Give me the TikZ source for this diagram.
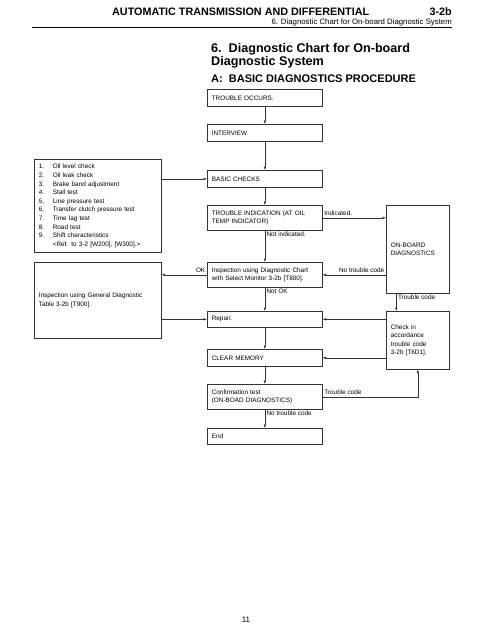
\documentclass[tikz,border=0pt]{standalone}
\usepackage{fontspec}
\setmainfont{Liberation Sans}
\usetikzlibrary{arrows.meta}

\tikzset{
    box/.style={draw=black!80, line width=0.6pt, anchor=north west, align=left,
        inner xsep=4.5pt, inner ysep=1pt, font=\fontsize{6.4}{8.6}\selectfont},
    mainbox/.style={box, minimum width=115pt, text width=106pt},
    sidebox/.style={box, minimum width=127pt, text width=118pt},
    codebox/.style={box, minimum width=63pt, text width=54pt},
    arr/.style={draw=black!80, line width=0.5pt, -{Latex[length=3.5pt,width=2.6pt]}},
    lbl/.style={inner sep=1.5pt, font=\fontsize{6.4}{8}\selectfont},
    headtext/.style={inner sep=0pt, font=\fontsize{10.8}{12}\selectfont\bfseries},
    titletext/.style={inner sep=0pt, anchor=base west, font=\fontsize{12.6}{13}\selectfont\bfseries},
}

\begin{document}
\begin{tikzpicture}[x=1pt,y=-1pt]
    \useasboundingbox (0,0) rectangle (495,640);

    % Page header
    \node[headtext, anchor=base west] (head) at (112,15) {AUTOMATIC TRANSMISSION AND DIFFERENTIAL};
    \node[headtext, anchor=base east] (sect) at (452,15) {3-2b};
    \node[inner sep=0pt, anchor=base east, font=\fontsize{7.8}{9}\selectfont] (subhead) at (452,24) {6. Diagnostic Chart for On-board Diagnostic System};
    \draw[line width=1pt] (32,27.8) -- (452,27.8);

    % Titles
    \node[titletext] (title) at (211,52) {6.\ \ Diagnostic Chart for On-board};
    \node[titletext] (title2) at (211,65) {Diagnostic System};
    \node[titletext, font=\fontsize{11}{12}\selectfont\bfseries] (subtitle) at (211,82)
        {A:\ \ BASIC DIAGNOSTICS PROCEDURE};

    % Main column
    \node[mainbox, minimum height=17pt] (occurs) at (207,89) {TROUBLE OCCURS.};
    \node[mainbox, minimum height=17pt] (interview) at (207,124) {INTERVIEW};
    \node[mainbox, minimum height=17pt] (basic) at (207,170) {BASIC CHECKS};
    \node[mainbox, minimum height=25pt] (indication) at (207,205) {TROUBLE INDICATION (AT OIL\\TEMP INDICATOR)};
    \node[mainbox, minimum height=25pt] (inspect) at (207,262) {Inspection using Diagnostic Chart\\with Select Monitor 3-2b [T800].};
    \node[mainbox, minimum height=16pt] (repair) at (207,311) {Repair.};
    \node[mainbox, minimum height=17pt] (clear) at (207,349) {CLEAR MEMORY};
    \node[mainbox, minimum height=25pt] (confirm) at (207,384) {Confirmation test\\(ON-BOAD DIAGNOSTICS)};
    \node[mainbox, minimum height=16pt] (finish) at (207,428) {End};

    % Left column
    \node[sidebox, minimum height=93pt] (checks) at (34,159) {%
        \begin{tabular}{@{}p{14pt}@{}l@{}}
        1. & Oil level check\\
        2. & Oil leak check\\
        3. & Brake band adjustment\\
        4. & Stall test\\
        5. & Line pressure test\\
        6. & Transfer clutch pressure test\\
        7. & Time lag test\\
        8. & Road test\\
        9. & Shift characteristics\\
           & <Ref. to 3-2 [W200], [W300].>
        \end{tabular}};
    \node[sidebox, minimum height=76pt] (general) at (34,262) {Inspection using General Diagnostic\\Table 3-2b [T900].};

    % Right column
    \node[codebox, minimum height=88pt] (onboard) at (386,205) {ON-BOARD\\DIAGNOSTICS};
    \node[codebox, minimum height=58pt] (codecheck) at (386,311) {Check in\\accordance\\trouble code\\3-2b [T6D1].};

    % Flow
    \draw[arr] (occurs) -- (interview);
    \draw[arr] (interview) -- (basic);
    \draw[arr] (checks.east |- basic.west) -- (basic.west);
    \draw[arr] (basic) -- (indication);
    \draw[arr] (indication.east) -- node[lbl, pos=0, anchor=south west] (lblind) {Indicated.} (onboard.west |- indication.east);
    \draw[arr] (indication) -- node[lbl, pos=0, anchor=north west] (lblnotind) {Not indicated.} (inspect);
    \draw[arr] (onboard.west |- inspect.east) -- node[lbl, pos=0, anchor=south east] (lblnocode) {No trouble code} (inspect.east);
    \draw[arr] (inspect.west) -- node[lbl, pos=0, anchor=south east] (lblok) {OK} (general.east |- inspect.west);
    \draw[arr] (inspect) -- node[lbl, pos=0, anchor=north west] (lblnotok) {Not OK} (repair);
    \draw[arr] (general.east |- repair.west) -- (repair.west);
    \draw[arr] ([xshift=-21.5pt]onboard.south) -- node[lbl, pos=0, anchor=north west] (lblcode) {Trouble code} ([xshift=-21.5pt]codecheck.north);
    \draw[arr] (codecheck.west |- repair.east) -- (repair.east);
    \draw[arr] (codecheck.west |- clear.east) -- (clear.east);
    \draw[arr] (repair) -- (clear);
    \draw[arr] (clear) -- (confirm);
    \draw[arr] (confirm.east) -- node[lbl, pos=0, anchor=south west] (lblcode2) {Trouble code} (confirm.east -| codecheck.south) -- (codecheck.south);
    \draw[arr] (confirm) -- node[lbl, pos=0, anchor=north west] (lblnocode2) {No trouble code} (finish);

    % Page number
    \node[anchor=base, font=\fontsize{8}{9}\selectfont] (page) at (246,622) {11};
\end{tikzpicture}
\end{document}
